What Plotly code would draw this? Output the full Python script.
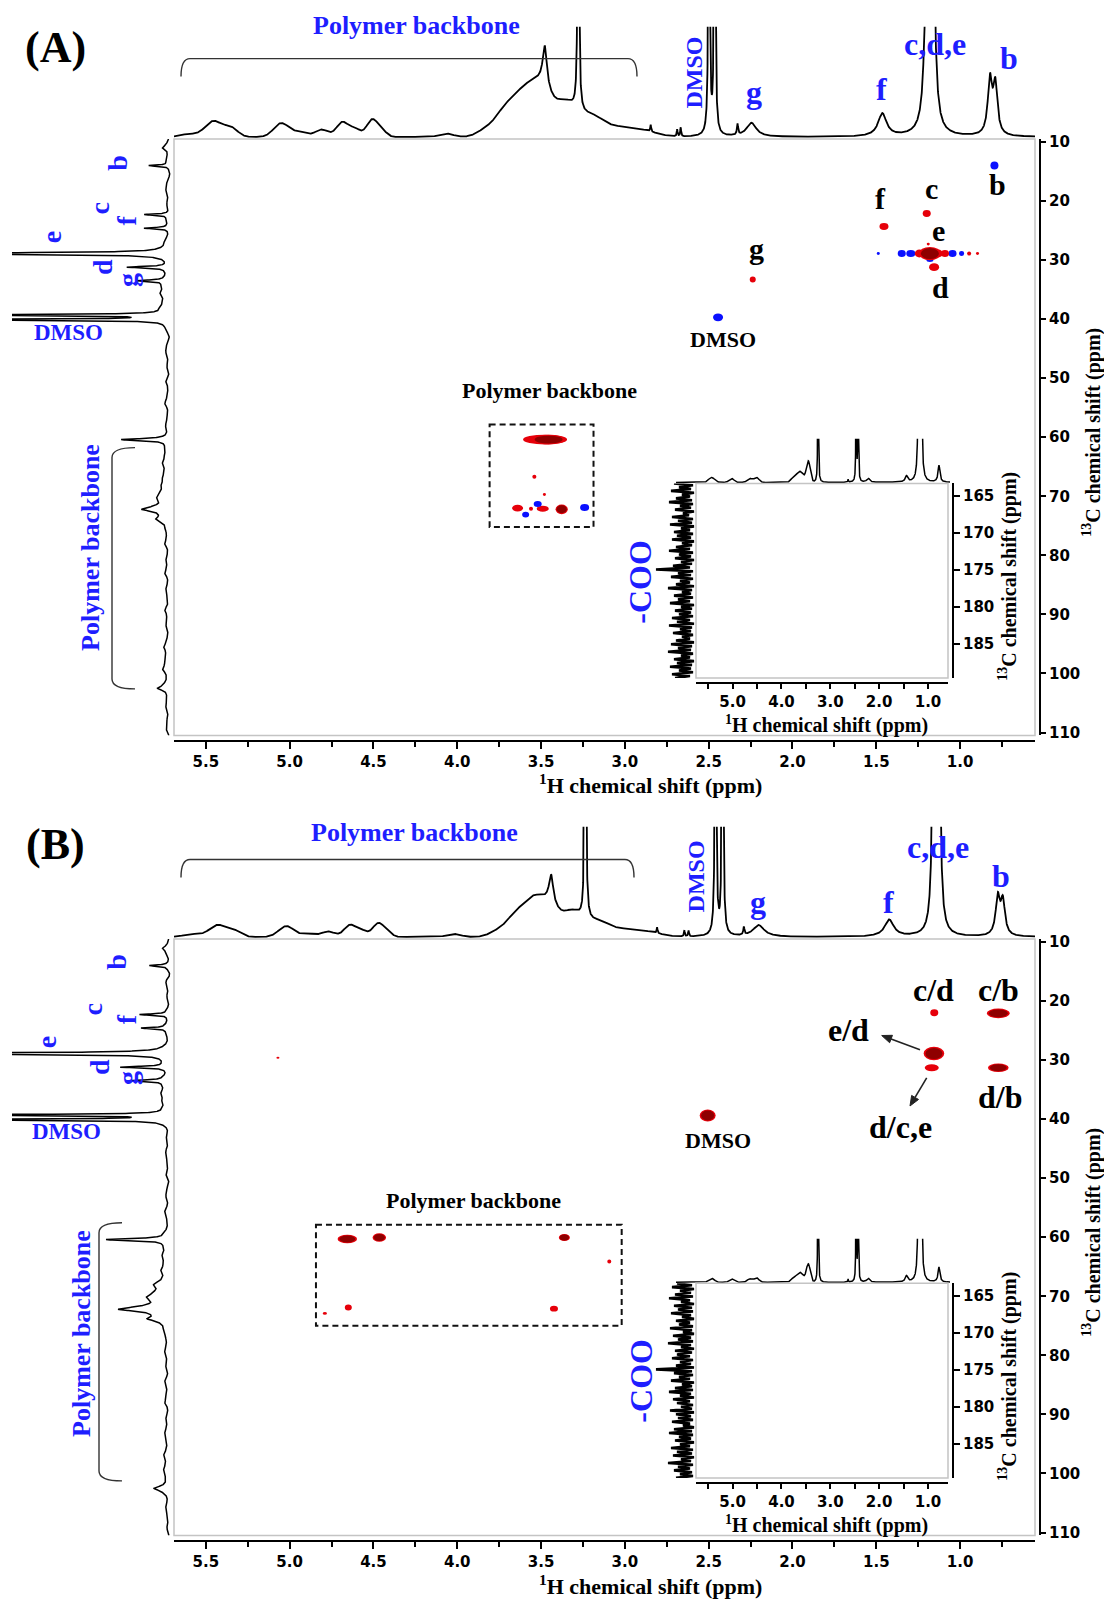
import numpy as np
import plotly.graph_objects as go

W, H = 1104, 1602

# ============================ DATA ============================
# axis ticks
h1_ticks = [5.5, 5.0, 4.5, 4.0, 3.5, 3.0, 2.5, 2.0, 1.5, 1.0]
h1_minor = [5.25, 4.75, 4.25, 3.75, 3.25, 2.75, 2.25, 1.75, 1.25, 0.75]
c13_ticks = [10, 20, 30, 40, 50, 60, 70, 80, 90, 100, 110]
ins_h1_ticks = [5.0, 4.0, 3.0, 2.0, 1.0]
ins_h1_minor = [5.5, 4.5, 3.5, 2.5, 1.5]
ins_c13_ticks = [165, 170, 175, 180, 185]

# ---- Panel A (HSQC) 2D cross peaks: 1H ppm, 13C ppm, contour extent (ppm), phase
A_h = [0.795, 1.454, 1.199, 1.488, 1.348, 1.294, 1.045, 0.991, 1.180, 1.243, 1.209, 1.130, 1.090,
       0.946, 0.896, 1.190, 1.180, 1.155, 2.237, 2.444, 3.476, 3.455, 3.540, 3.480, 3.640, 3.560,
       3.490, 3.377, 3.520, 3.592, 3.240]
A_c = [14.0, 24.3, 22.1, 28.9, 28.9, 28.9, 28.9, 28.9, 30.0, 28.9, 28.9, 28.9, 28.9,
       28.9, 28.9, 27.3, 28.9, 31.2, 33.3, 39.7, 60.4, 60.4, 66.7, 69.7, 72.0, 72.1,
       72.1, 72.2, 71.3, 73.1, 71.9]
A_dh = [0.048, 0.054, 0.048, 0.018, 0.048, 0.054, 0.048, 0.030, 0.042, 0.054, 0.060, 0.054, 0.048,
        0.024, 0.018, 0.018, 0.107, 0.060, 0.036, 0.060, 0.263, 0.167, 0.024, 0.018, 0.066, 0.024,
        0.072, 0.060, 0.048, 0.042, 0.054]
A_dc = [1.34, 1.18, 1.18, 0.50, 1.18, 1.18, 1.18, 0.84, 0.67, 1.34, 1.50, 1.34, 1.18,
        0.67, 0.50, 0.50, 1.85, 1.34, 1.00, 1.34, 1.68, 1.34, 0.67, 0.50, 1.18, 0.67,
        1.00, 1.34, 1.00, 1.00, 1.18]
A_kind = ['blue', 'red', 'red', 'blue', 'blue', 'blue', 'blue', 'blue', 'blue', 'red', 'red', 'red', 'red',
          'red', 'red', 'red', 'dark', 'red', 'red', 'blue', 'red', 'dark', 'red', 'red', 'red', 'red',
          'red', 'dark', 'blue', 'blue', 'blue']
A_box_h = [3.807, 3.187]
A_box_c = [57.85, 75.2]

# ---- Panel B (HMBC) 2D cross peaks
B_h = [5.070, 2.506, 1.154, 0.772, 1.156, 1.169, 0.772, 4.656, 4.465, 3.361, 3.093, 4.650, 3.423, 4.790]
B_c = [29.6, 39.4, 22.0, 22.1, 28.9, 31.3, 31.3, 60.3, 60.05, 60.05, 64.1, 71.9, 72.1, 72.9]
B_dh = [0.018, 0.078, 0.048, 0.113, 0.101, 0.084, 0.101, 0.095, 0.066, 0.054, 0.024, 0.042, 0.048, 0.024]
B_dc = [0.34, 1.68, 1.18, 1.34, 1.85, 1.18, 1.18, 1.18, 1.18, 1.00, 0.67, 1.00, 1.00, 0.50]
B_kind = ['red', 'dark', 'red', 'dark', 'dark', 'red', 'dark', 'dark', 'dark', 'dark', 'red', 'red', 'red', 'red']
B_box_h = [4.843, 3.019]
B_box_c = [57.9, 75.0]

# ---- 1H projections (top): sharp lines (Lorentzian) and broad humps (Gaussian)
h1A_sharp_ppm = [3.278, 3.478, 2.498, 2.464, 2.846, 2.688, 2.667, 2.328, 2.245, 1.464, 1.195, 1.165, 0.822, 0.790]
h1A_sharp_int = [400, 40, 400, 400, 7, 7, 9, 11, 14, 23, 300, 300, 55, 50]
h1A_sharp_fwhm = [0.008, 0.03, 0.008, 0.008, 0.006, 0.006, 0.006, 0.008, 0.07, 0.06, 0.024, 0.024, 0.03, 0.03]
h1A_broad_ppm = [5.60, 5.455, 5.35, 5.05, 4.94, 4.81, 4.685, 4.61, 4.505, 4.44, 4.065, 3.84, 3.70, 3.58,
                 3.49, 3.36, 3.20, 3.03, 2.88]
h1A_broad_int = [3, 16, 9, 14, 5, 7.5, 15, 8, 18, 4, 3.5, 5, 30, 40, 35, 34, 18, 9, 4]
h1A_broad_sig = [0.05, 0.05, 0.04, 0.045, 0.04, 0.04, 0.035, 0.03, 0.035, 0.025, 0.04, 0.05, 0.07, 0.06,
                 0.05, 0.07, 0.07, 0.1, 0.08]

h1B_sharp_ppm = [3.236, 3.440, 2.459, 2.417, 2.808, 2.645, 2.620, 2.290, 2.202, 1.423, 1.157, 1.127, 0.775, 0.745]
h1B_sharp_int = [400, 28, 400, 400, 6, 6, 6, 8, 11.7, 17, 250, 250, 38, 34]
h1B_sharp_fwhm = [0.008, 0.03, 0.008, 0.008, 0.006, 0.006, 0.006, 0.008, 0.08, 0.065, 0.02, 0.02, 0.03, 0.03]
h1B_broad_ppm = [5.58, 5.43, 5.33, 5.02, 4.89, 4.77, 4.64, 4.57, 4.47, 4.41, 4.02, 3.76, 3.64, 3.54,
                 3.45, 3.32, 3.17, 3.00, 2.85]
h1B_broad_int = [3, 12, 6, 11, 3.5, 5.5, 12, 6, 14, 3, 3, 5, 24, 30, 28, 24, 14, 7, 3]
h1B_broad_sig = [0.05, 0.05, 0.04, 0.045, 0.04, 0.04, 0.035, 0.03, 0.035, 0.025, 0.04, 0.05, 0.06, 0.05,
                 0.05, 0.06, 0.07, 0.1, 0.08]

# ---- 13C projections (left)
c13A_ppm = [11.0, 14.0, 22.3, 24.6, 28.9, 31.2, 33.5, 39.3, 40.1, 60.4, 68.0, 70.0, 72.2, 73.8, 102.5]
c13A_int = [5, 20, 24, 24, 300, 40, 28, 300, 300, 46, 4, 5, 20, 8, 10]
c13B_int = [5, 18, 28, 25, 300, 46, 36, 300, 300, 60, 6, 10, 38, 14, 12]
c13_fwhm = [0.6, 0.25, 0.25, 0.25, 0.3, 0.3, 0.3, 0.2, 0.2, 0.4, 1.5, 1.0, 0.8, 0.8, 0.8]
c13_wig_ppm = [10.5 + 1.25 * i for i in range(80)]
c13A_wig = [2, 1, 3, 0, -1, 2, 3, 1, 2, 0,
            2, 1, 0, 3, 2, 1, 0, 2, 3, 6,
            8, 5, 7, 3, 1, 2, -1, 2, 3, 1,
            2, 0, 3, 1, 2, 4, 1, 2, 3, 1,
            2, 3, 4, 6, 4, 5, 3, 6, 7, 8,
            5, 4, 3, 2, 4, 1, 3, 2, 4, 1,
            3, 2, 1, 4, 2, 3, 1, 2, 5, 3,
            4, 6, 2, 3, 1, 2, 3, 1, 2, 3]
c13B_wig = [1, 3, 0, 2, -1, 3, 1, 2, 0, 2,
            1, 3, 2, 0, 2, 1, 3, 1, 4, 5,
            7, 6, 4, 2, 3, 0, 2, 1, 3, 2,
            1, 3, 0, 2, 3, 1, 4, 2, 1, 3,
            3, 4, 6, 5, 7, 4, 8, 9, 12, 14,
            8, 5, 4, 3, 2, 4, 2, 3, 1, 4,
            2, 3, 4, 1, 3, 2, 4, 3, 2, 5,
            3, 5, 3, 2, 4, 1, 3, 2, 1, 2]

# ---- inset 1H projections
inA_sharp_ppm = [3.250, 2.635, 2.470, 2.430, 2.225, 1.440, 1.190, 1.140, 0.775]
inA_sharp_int = [200, 3, 200, 200, 4, 6, 150, 150, 17]
inB_sharp_int = [200, 3, 200, 200, 4, 6, 150, 150, 15]
in_sharp_fwhm = [0.012, 0.012, 0.010, 0.010, 0.07, 0.06, 0.03, 0.03, 0.045]
in_broad_ppm = [5.43, 5.02, 4.65, 4.51, 3.76, 3.62, 3.45]
inA_broad_int = [5, 4, 4, 5, 4, 11, 21]
inB_broad_int = [4, 3.5, 3.5, 4.5, 3.5, 10, 18]
in_broad_sig = [0.06, 0.05, 0.05, 0.05, 0.05, 0.07, 0.04]

# ---- inset 13C projections (163.35 -> 189.55 ppm, -COO line near 175 ppm)
cooA = [22, 3, 17, 5, 25, 2, 14, 6, 20, 4,
        27, 3, 16, 5, 21, 2, 13, 7, 24, 3,
        18, 4, 26, 2, 15, 6, 22, 3, 19, 5,
        24, 2, 14, 4, 20, 6, 27, 3, 17, 5,
        21, 2, 15, 4, 23, 6, 40, 3, 18, 5,
        25, 3, 16, 6, 20, 2, 28, 4, 14, 5,
        22, 3, 18, 6, 26, 2, 15, 4, 21, 5,
        17, 3, 24, 6, 19, 2, 27, 4, 16, 5,
        23, 3, 14, 6, 20, 2, 25, 4, 18, 5,
        28, 3, 15, 6, 22, 2, 19, 4, 26, 5,
        17, 3, 24, 6, 21]
cooB = [19, 4, 24, 2, 16, 5, 21, 3, 27, 6,
        15, 2, 22, 4, 18, 3, 25, 5, 14, 2,
        20, 6, 17, 3, 26, 4, 13, 2, 23, 5,
        18, 3, 28, 5, 15, 2, 21, 4, 19, 6,
        24, 3, 16, 5, 20, 2, 40, 4, 22, 3,
        17, 6, 25, 2, 14, 4, 21, 3, 27, 5,
        16, 2, 23, 6, 19, 3, 15, 4, 26, 2,
        20, 5, 18, 3, 24, 6, 13, 2, 22, 4,
        27, 3, 17, 5, 21, 2, 16, 6, 25, 3,
        19, 4, 23, 2, 15, 5, 28, 3, 18, 6,
        22, 4, 16, 3, 20]

# ============================ HELPERS ============================
def PX(x):
    return x / W


def PY(y):
    return 1 - y / H


def XK(n):
    return 'xaxis' if n == 1 else f'xaxis{n}'


def YK(n):
    return 'yaxis' if n == 1 else f'yaxis{n}'


def XR(n):
    return 'x' if n == 1 else f'x{n}'


def YR(n):
    return 'y' if n == 1 else f'y{n}'


def lor(grid, pos, amp, fwhm):
    out = np.zeros_like(grid)
    for p, a, w in zip(pos, amp, fwhm):
        out += a / (1.0 + ((grid - p) / (w / 2.0)) ** 2)
    return out


def gau(grid, pos, amp, sig):
    out = np.zeros_like(grid)
    for p, a, s in zip(pos, amp, sig):
        out += a * np.exp(-0.5 * ((grid - p) / s) ** 2)
    return out


COL = {'red': '#e6000a', 'dark': '#8e0000', 'blue': '#0a10ff'}
BLUE = '#1e1eff'
SERIF = 'Liberation Serif'
tickfont = dict(family='DejaVu Sans', size=15, color='black', weight='bold')
hidden = dict(visible=False, showgrid=False, zeroline=False, fixedrange=True)


def ell(h, c, dh, dc, col, xr, yr):
    return dict(type='circle', xref=xr, yref=yr, x0=h - dh / 2, x1=h + dh / 2,
                y0=c - dc / 2, y1=c + dc / 2, fillcolor=col, line=dict(width=0), layer='above')


def prect(x0, y0, x1, y1, col='#c4c4c4', w=1.5):
    return dict(type='rect', xref='paper', yref='paper', x0=PX(x0), x1=PX(x1), y0=PY(y0), y1=PY(y1),
                line=dict(color=col, width=w), fillcolor='rgba(0,0,0,0)', layer='above')


def T(text, x, y, size, color='black', angle=0):
    return dict(text=f'<b>{text}</b>', x=PX(x), y=PY(y), xref='paper', yref='paper', showarrow=False,
                font=dict(size=size, color=color, family=SERIF), textangle=angle,
                xanchor='center', yanchor='middle')


def build_panel(n0, dy, P):
    m, t, l, im, it, il = range(n0, n0 + 6)
    lay, tr, sh = {}, [], []
    main_xdom = [PX(174), PX(1035)]
    main_ydom = [PY(735 + dy), PY(134 + dy)]
    main_xr = [5.69, 0.553]
    main_yr = [110.5, 9.5]
    # ---- main 2D axes
    lay[XK(m)] = dict(domain=main_xdom, range=main_xr, anchor='free', position=PY(741 + dy),
                      showline=True, linecolor='black', linewidth=2,
                      ticks='outside', ticklen=7, tickwidth=1.5, tickcolor='black',
                      tickmode='array', tickvals=h1_ticks, ticktext=[f'{v:.1f}' for v in h1_ticks],
                      minor=dict(tickmode='array', tickvals=h1_minor, ticks='outside', ticklen=5,
                                 tickwidth=1.5, tickcolor='black', showgrid=False),
                      tickfont=tickfont, showgrid=False, zeroline=False, fixedrange=True)
    lay[YK(m)] = dict(domain=main_ydom, range=main_yr, anchor='free', position=PX(1040), side='right',
                      showline=True, linecolor='black', linewidth=2,
                      ticks='outside', ticklen=5, tickwidth=1.5, tickcolor='black',
                      tickmode='array', tickvals=c13_ticks, ticktext=[str(v) for v in c13_ticks],
                      tickfont=tickfont, showgrid=False, zeroline=False, fixedrange=True)
    tr.append(go.Scatter(x=P['h'], y=P['c'], mode='markers', marker=dict(size=2, opacity=0),
                         xaxis=XR(m), yaxis=YR(m), hoverinfo='skip'))
    for h, c, dh, dc, k in zip(P['h'], P['c'], P['dh'], P['dc'], P['kind']):
        if k == 'dark':
            sh.append(ell(h, c, dh * 1.22, dc * 1.22, COL['red'], XR(m), YR(m)))
        sh.append(ell(h, c, dh, dc, COL[k], XR(m), YR(m)))
    sh.append(dict(type='rect', xref=XR(m), yref=YR(m), x0=P['box_h'][0], x1=P['box_h'][1],
                   y0=P['box_c'][0], y1=P['box_c'][1], fillcolor='rgba(0,0,0,0)',
                   line=dict(color='#111', width=2, dash='6px,4px'), layer='above'))
    sh.append(prect(174, 134 + dy, 1035, 735 + dy))
    # ---- top 1H projection
    g = np.linspace(main_xr[0], main_xr[1], 7000)
    ytop = lor(g, P['hs_p'], P['hs_i'], P['hs_w']) + gau(g, P['hb_p'], P['hb_i'], P['hb_s'])
    tr.append(go.Scatter(x=g, y=ytop, mode='lines', line=dict(color='black', width=1.8),
                         xaxis=XR(t), yaxis=YR(t), hoverinfo='skip'))
    lay[XK(t)] = dict(domain=main_xdom, range=main_xr, anchor=YR(t), **hidden)
    lay[YK(t)] = dict(domain=[PY(134 + dy), PY(21 + dy)], range=[-2, 111], anchor=XR(t), **hidden)
    # ---- left 13C projection
    gc = np.linspace(9.5, 110.5, 7000)
    xleft = lor(gc, P['c_p'], P['c_i'], P['c_w']) + gau(gc, c13_wig_ppm, P['c_wig'], [0.5] * len(c13_wig_ppm))
    tr.append(go.Scatter(x=xleft, y=gc, mode='lines', line=dict(color='black', width=1.5),
                         xaxis=XR(l), yaxis=YR(l), hoverinfo='skip'))
    lay[XK(l)] = dict(domain=[PX(12), PX(172)], range=[158, -3], anchor=YR(l), **hidden)
    lay[YK(l)] = dict(domain=main_ydom, range=main_yr, anchor=XR(l), **hidden)
    # ---- inset 2D axes
    in_xdom = [PX(696), PX(948)]
    in_ydom = [PY(677 + dy), PY(481 + dy)]
    in_xr = [5.75, 0.59]
    in_yr = [189.55, 163.35]
    lay[XK(im)] = dict(domain=in_xdom, range=in_xr, anchor='free', position=PY(682 + dy),
                       showline=True, linecolor='black', linewidth=2,
                       ticks='outside', ticklen=5, tickwidth=1.5, tickcolor='black',
                       tickmode='array', tickvals=ins_h1_ticks, ticktext=[f'{v:.1f}' for v in ins_h1_ticks],
                       minor=dict(tickmode='array', tickvals=ins_h1_minor, ticks='outside', ticklen=5,
                                  tickwidth=1.5, tickcolor='black', showgrid=False),
                       tickfont=tickfont, showgrid=False, zeroline=False, fixedrange=True)
    lay[YK(im)] = dict(domain=in_ydom, range=in_yr, anchor='free', position=PX(953), side='right',
                       showline=True, linecolor='black', linewidth=2,
                       ticks='outside', ticklen=6, tickwidth=1.5, tickcolor='black',
                       tickmode='array', tickvals=ins_c13_ticks, ticktext=[str(v) for v in ins_c13_ticks],
                       tickfont=tickfont, showgrid=False, zeroline=False, fixedrange=True)
    tr.append(go.Scatter(x=[None], y=[None], mode='markers', xaxis=XR(im), yaxis=YR(im), hoverinfo='skip'))
    sh.append(prect(696, 481 + dy, 948, 677 + dy))
    # ---- inset top projection
    gi = np.linspace(6.159, 0.549, 4000)
    yin = lor(gi, inA_sharp_ppm, P['is_i'], in_sharp_fwhm) + gau(gi, in_broad_ppm, P['ib_i'], in_broad_sig)
    tr.append(go.Scatter(x=gi, y=yin, mode='lines', line=dict(color='black', width=1.5),
                         xaxis=XR(it), yaxis=YR(it), hoverinfo='skip'))
    lay[XK(it)] = dict(domain=[PX(676), PX(950)], range=[6.159, 0.549], anchor=YR(it), **hidden)
    lay[YK(it)] = dict(domain=[PY(482 + dy), PY(436 + dy)], range=[-2, 44], anchor=XR(it), **hidden)
    # ---- inset left projection (carbonyl region)
    gy = np.linspace(163.35, 189.55, len(P['coo']))
    tr.append(go.Scatter(x=P['coo'], y=gy, mode='lines', line=dict(color='black', width=2.6),
                         xaxis=XR(il), yaxis=YR(il), hoverinfo='skip'))
    lay[XK(il)] = dict(domain=[PX(646), PX(698)], range=[50, -2], anchor=YR(il), **hidden)
    lay[YK(il)] = dict(domain=in_ydom, range=in_yr, anchor=XR(il), **hidden)
    return tr, sh, lay


PA = dict(h=A_h, c=A_c, dh=A_dh, dc=A_dc, kind=A_kind, box_h=A_box_h, box_c=A_box_c,
          hs_p=h1A_sharp_ppm, hs_i=h1A_sharp_int, hs_w=h1A_sharp_fwhm,
          hb_p=h1A_broad_ppm, hb_i=h1A_broad_int, hb_s=h1A_broad_sig,
          c_p=c13A_ppm, c_i=c13A_int, c_w=c13_fwhm, c_wig=c13A_wig,
          is_i=inA_sharp_int, ib_i=inA_broad_int, coo=cooA)
PB = dict(h=B_h, c=B_c, dh=B_dh, dc=B_dc, kind=B_kind, box_h=B_box_h, box_c=B_box_c,
          hs_p=h1B_sharp_ppm, hs_i=h1B_sharp_int, hs_w=h1B_sharp_fwhm,
          hb_p=h1B_broad_ppm, hb_i=h1B_broad_int, hb_s=h1B_broad_sig,
          c_p=c13A_ppm, c_i=c13B_int, c_w=c13_fwhm, c_wig=c13B_wig,
          is_i=inB_sharp_int, ib_i=inB_broad_int, coo=cooB)

trA, shA, layA = build_panel(1, 0, PA)
trB, shB, layB = build_panel(7, 806, PB)

fig = go.Figure(data=trA + trB)


# ---- brackets and arrows (layout decorations, paper coordinates)
def P2(x, y):
    return f'{PX(x):.6f},{PY(y):.6f}'


def path(d, fill=False, col='#333', w=1.4):
    return dict(type='path', xref='paper', yref='paper', path=d, line=dict(color=col, width=w),
                fillcolor=col if fill else 'rgba(0,0,0,0)', layer='above')


brackets = [
    path(f'M {P2(181, 71)} Q {P2(181, 53)} {P2(190, 53)} L {P2(628, 53)} Q {P2(637, 53)} {P2(637, 71)}'),
    path(f'M {P2(135, 445)} Q {P2(112, 445)} {P2(112, 455)} L {P2(112, 678)} Q {P2(112, 688)} {P2(135, 688)}'),
    path(f'M {P2(181, 878)} Q {P2(181, 860)} {P2(190, 860)} L {P2(625, 860)} Q {P2(634, 860)} {P2(634, 878)}'),
    path(f'M {P2(122, 1226)} Q {P2(99, 1226)} {P2(99, 1236)} L {P2(99, 1476)} Q {P2(99, 1486)} {P2(122, 1486)}'),
]


def arrow(tail, head, hl=10, hw=4):
    vx, vy = head[0] - tail[0], head[1] - tail[1]
    n = (vx ** 2 + vy ** 2) ** 0.5
    ux, uy = vx / n, vy / n
    bx, by = head[0] - hl * ux, head[1] - hl * uy
    px_, py_ = -uy * hw, ux * hw
    return [path(f'M {P2(*tail)} L {P2(bx, by)}', col='#222', w=1.6),
            path(f'M {P2(*head)} L {P2(bx + px_, by + py_)} L {P2(bx - px_, by - py_)} Z', fill=True, col='#222', w=1)]


arrows = arrow((920, 1051.7), (881.7, 1037.3)) + arrow((926.7, 1080), (910, 1108.3))

H1T = '<sup>1</sup>H chemical shift (ppm)'
C13T = '<sup>13</sup>C chemical shift (ppm)'

annos = [
    # ---------- panel A ----------
    T('(A)', 55, 42, 44),
    T('Polymer backbone', 416, 20, 26, BLUE),
    T('DMSO', 694, 67, 24, BLUE, -90),
    T('g', 754, 87, 32, BLUE), T('f', 881, 84, 32, BLUE),
    T('c,d,e', 935, 38, 32, BLUE), T('b', 1009, 52, 32, BLUE),
    T('b', 118, 158, 28, BLUE, -90), T('c', 99, 204, 28, BLUE, -90), T('f', 126, 216, 28, BLUE, -90),
    T('e', 51, 233, 28, BLUE, -90), T('d', 102, 263, 28, BLUE, -90), T('g', 128, 276, 28, BLUE, -90),
    T('DMSO', 68, 329, 23, BLUE),
    T('Polymer backbone', 91, 546, 26, BLUE, -90),
    T('f', 880, 194, 30), T('c', 931, 184, 30), T('b', 997, 180, 30),
    T('e', 939, 226, 30), T('d', 940, 284, 30), T('g', 756, 244, 30),
    T('DMSO', 723, 336, 22), T('Polymer backbone', 549, 387, 22),
    T(H1T, 650, 784, 22), T(C13T, 1092, 430, 20, 'black', -90),
    T('-COO', 640, 580, 32, BLUE, -90),
    T(H1T, 826, 724, 20), T(C13T, 1008, 574, 20, 'black', -90),
    # ---------- panel B ----------
    T('(B)', 55, 845, 44),
    T('Polymer backbone', 414, 833, 26, BLUE),
    T('DMSO', 696, 877, 24, BLUE, -90),
    T('g', 758, 903, 32, BLUE), T('f', 888, 903, 32, BLUE),
    T('c,d,e', 938, 847, 32, BLUE), T('b', 1001, 877, 32, BLUE),
    T('b', 117, 963, 28, BLUE, -90), T('c', 92, 1011, 28, BLUE, -90), T('f', 126, 1021, 28, BLUE, -90),
    T('e', 46, 1044, 28, BLUE, -90), T('d', 100, 1069, 28, BLUE, -90), T('g', 128, 1080, 28, BLUE, -90),
    T('DMSO', 66, 1134, 23, BLUE),
    T('Polymer backbone', 82, 1338, 26, BLUE, -90),
    T('c/d', 933, 991, 32), T('c/b', 998, 991, 32), T('e/d', 848, 1032, 32),
    T('d/b', 1000, 1099, 32), T('d/c,e', 900, 1129, 32),
    T('DMSO', 718, 1143, 22), T('Polymer backbone', 473, 1204, 22),
    T(H1T, 650, 1591, 22), T(C13T, 1092, 1236, 20, 'black', -90),
    T('-COO', 641, 1385, 32, BLUE, -90),
    T(H1T, 826, 1530, 20), T(C13T, 1008, 1380, 20, 'black', -90),
]

layout = dict(width=W, height=H, margin=dict(l=0, r=0, t=0, b=0), paper_bgcolor='white',
              plot_bgcolor='white', showlegend=False, shapes=shA + shB + brackets + arrows,
              annotations=annos)
layout.update(layA)
layout.update(layB)
fig.update_layout(**layout)
fig.write_html('out.html')
